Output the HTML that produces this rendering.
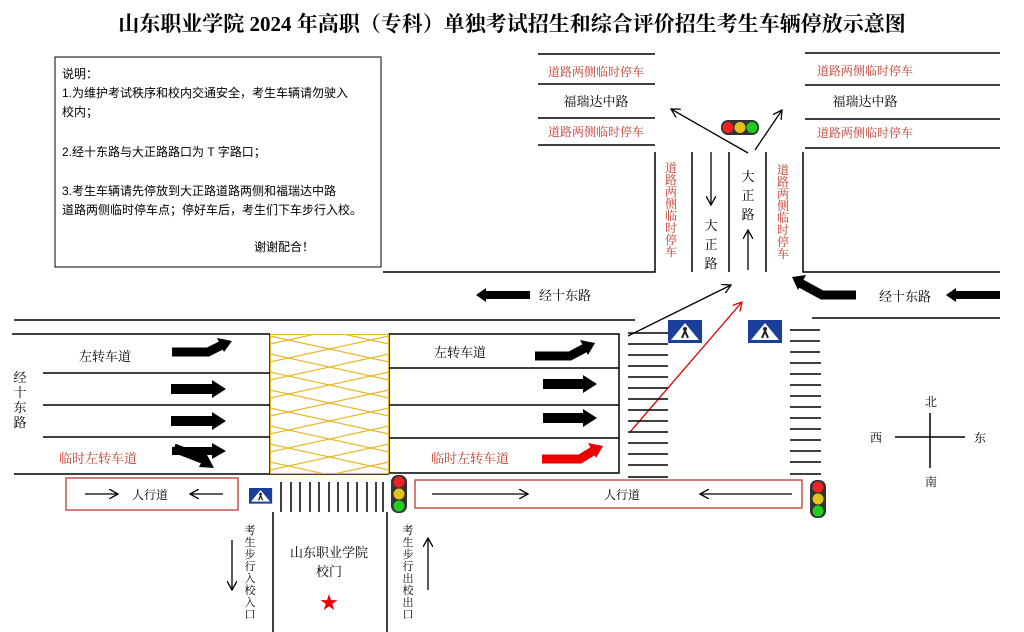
<!DOCTYPE html>
<html><head><meta charset="utf-8"><style>
html,body{margin:0;padding:0;background:#fff;width:1024px;height:632px;overflow:hidden}
svg{display:block}
text{font-family:"Liberation Serif","Noto Serif CJK SC","Noto Sans CJK SC",serif}
.s{font-family:"Liberation Sans","Noto Sans CJK SC",sans-serif}
</style></head><body>
<svg width="1024" height="632" viewBox="0 0 1024 632" xmlns="http://www.w3.org/2000/svg">
<defs>
<marker id="ah" markerWidth="10" markerHeight="10" refX="9" refY="5" orient="auto" markerUnits="userSpaceOnUse"><path d="M0,0 L9,5 L0,10" fill="none" stroke="#000" stroke-width="1.3"/></marker>
<marker id="ahr" markerWidth="10" markerHeight="10" refX="9" refY="5" orient="auto" markerUnits="userSpaceOnUse"><path d="M0,0 L9,5 L0,10" fill="none" stroke="#d00" stroke-width="1.3"/></marker>
<clipPath id="yc"><rect x="270" y="334" width="119" height="140"/></clipPath>
<g id="ped"><rect width="34" height="23" fill="#1a3f9a"/><polygon points="17,3 31,20 3,20" fill="#fff"/><circle cx="17" cy="9" r="2" fill="#222"/><path d="M17,11 L14,18 M17,11 L20,18" stroke="#222" stroke-width="2"/></g>
</defs>
<text x="512" y="31" text-anchor="middle" font-size="21" font-weight="bold">山东职业学院 2024 年高职（专科）单独考试招生和综合评价招生考生车辆停放示意图</text>

<rect x="55" y="57" width="326" height="210" fill="none" stroke="#000" stroke-width="1"/>
<g font-size="12" class="s">
<text x="62" y="78" class="s">说明：</text>
<text x="62" y="97" class="s">1.为维护考试秩序和校内交通安全，考生车辆请勿驶入</text>
<text x="62" y="116" class="s">校内；</text>
<text x="62" y="156" class="s">2.经十东路与大正路路口为 T 字路口；</text>
<text x="62" y="195" class="s">3.考生车辆请先停放到大正路道路两侧和福瑞达中路</text>
<text x="62" y="214" class="s">道路两侧临时停车点；停好车后，考生们下车步行入校。</text>
<text x="254" y="251" class="s">谢谢配合！</text>
</g>

<g stroke="#000" stroke-width="1.5" fill="none">
<path d="M538,54H655M538,84H655M538,118H655M538,145H655"/>
<path d="M805,53H1000M805,85H1000M805,119H1000M805,148H1000"/>
<path d="M383,272H655V152"/>
<path d="M803,152V272H1000"/>
<path d="M692,152V272M729,152V272M766,152V272"/>
<path d="M14,320H635M812,318H1000"/>
</g>
<g font-size="12" fill="#c0392b" text-anchor="middle">
<text x="596" y="76">道路两侧临时停车</text><text x="596" y="136">道路两侧临时停车</text>
<text x="865" y="75">道路两侧临时停车</text><text x="865" y="137">道路两侧临时停车</text>
</g>
<g font-size="13" text-anchor="middle">
<text x="596" y="106">福瑞达中路</text><text x="865" y="106">福瑞达中路</text>
</g>
<g font-size="12" fill="#c0392b" text-anchor="middle">
<text x="671" y="172">道</text><text x="671" y="184">路</text><text x="671" y="196">两</text><text x="671" y="208">侧</text><text x="671" y="220">临</text><text x="671" y="232">时</text><text x="671" y="244">停</text><text x="671" y="256">车</text>
<text x="783" y="174">道</text><text x="783" y="186">路</text><text x="783" y="198">两</text><text x="783" y="210">侧</text><text x="783" y="222">临</text><text x="783" y="234">时</text><text x="783" y="246">停</text><text x="783" y="258">车</text>
</g>
<g font-size="13" text-anchor="middle">
<text x="711" y="230">大</text><text x="711" y="249">正</text><text x="711" y="268">路</text>
<text x="748" y="181">大</text><text x="748" y="200">正</text><text x="748" y="219">路</text>
</g>
<g stroke="#000" stroke-width="1.3" fill="none">
<line x1="711" y1="152" x2="711" y2="205" marker-end="url(#ah)"/>
<line x1="748" y1="270" x2="748" y2="230" marker-end="url(#ah)"/>
<line x1="748" y1="153" x2="671" y2="109" marker-end="url(#ah)"/>
<line x1="755" y1="150" x2="782" y2="110" marker-end="url(#ah)"/>
<line x1="628" y1="336" x2="731" y2="285" marker-end="url(#ah)"/>
<line x1="232" y1="540" x2="232" y2="590" marker-end="url(#ah)"/>
<line x1="428" y1="590" x2="428" y2="538" marker-end="url(#ah)"/>
<line x1="85" y1="494" x2="118" y2="494" marker-end="url(#ah)"/>
<line x1="223" y1="494" x2="190" y2="494" marker-end="url(#ah)"/>
<line x1="432" y1="494" x2="528" y2="494" marker-end="url(#ah)"/>
<line x1="792" y1="494" x2="700" y2="494" marker-end="url(#ah)"/>
</g>
<line x1="630" y1="432" x2="742" y2="302" stroke="#d00" stroke-width="1.3" marker-end="url(#ahr)"/>
<rect x="721" y="120" width="38" height="15" rx="7" fill="#333"/>
<circle cx="728" cy="127.5" r="5.5" fill="#e22"/><circle cx="740" cy="127.5" r="5.5" fill="#e5c21a"/><circle cx="752" cy="127.5" r="5.5" fill="#2c2"/>

<polygon points="476,295 486,288 486,291 530,291 530,299 486,299 486,302" fill="#000"/>
<text x="565" y="300" font-size="13" text-anchor="middle">经十东路</text>
<polygon points="946,295 956,288 956,291 1000,291 1000,299 956,299 956,302" fill="#000"/>
<text x="905" y="301" font-size="13" text-anchor="middle">经十东路</text>
<path d="M856,295 H822 L800,283" stroke="#000" stroke-width="9" fill="none"/>
<polygon points="792,277 806,275 798,290" fill="#000"/>

<g stroke="#000" stroke-width="1.5" fill="none">
<path d="M12,334H270M43,373H270M43,405H270M43,437H270M14,474H389"/>
<rect x="389" y="334" width="230" height="139"/>
<path d="M389,368H619M389,405H619M389,438H619"/>
<path d="M270,334V474"/>
</g>
<g clip-path="url(#yc)" stroke="#e8b72a" stroke-width="1.2">
<path d="M270,300L389,326M270,318L389,344M270,336L389,362M270,354L389,380M270,372L389,398M270,390L389,416M270,408L389,434M270,426L389,452M270,444L389,470M270,462L389,488M270,480L389,506"/>
<path d="M389,300L270,326M389,318L270,344M389,336L270,362M389,354L270,380M389,372L270,398M389,390L270,416M389,408L270,434M389,426L270,452M389,444L270,470M389,462L270,488M389,480L270,506"/>
<rect x="270" y="334" width="119" height="140" fill="none" stroke-width="2"/>
</g>
<g font-size="13" text-anchor="middle">
<text x="105" y="361">左转车道</text><text x="460" y="357">左转车道</text>
<text x="20" y="382">经</text><text x="20" y="397">十</text><text x="20" y="412">东</text><text x="20" y="427">路</text>
</g>
<g font-size="13" fill="#c0392b" text-anchor="middle"><text x="98" y="463">临时左转车道</text><text x="470" y="463">临时左转车道</text></g>
<g fill="#000">
<path d="M172,352H208L222,345" stroke="#000" stroke-width="9" fill="none"/><polygon points="232,341 217,338 224,352"/>
<polygon points="171,384 212,384 212,380 226,389 212,398 212,394 171,394"/>
<polygon points="171,416 212,416 212,412 226,421 212,430 212,426 171,426"/>
<polygon points="172,447 212,447 212,443 226,451 212,459 212,455 172,455"/>
<path d="M174,448L205,460" stroke="#000" stroke-width="9" fill="none"/><polygon points="214,468 199,467 206,453"/>
<path d="M535,356H570L585,348" stroke="#000" stroke-width="9" fill="none"/><polygon points="595,343 580,340 588,355"/>
<polygon points="543,379 583,379 583,375 597,384 583,393 583,389 543,389"/>
<polygon points="543,413 583,413 583,409 597,418 583,427 583,423 543,423"/>
</g>
<path d="M542,459H580L593,451" stroke="#e00" stroke-width="9" fill="none"/><polygon points="603,446 588,443 596,458" fill="#e00"/>

<g stroke="#000" stroke-width="1.5">
<path d="M628,333H668M628,344H668M628,355H668M628,366H668M628,377H668M628,388H668M628,399H668M628,410H668M628,421H668M628,432H668M628,443H668M628,454H668M628,465H668M628,477H668"/>
<path d="M790,330H820M790,341H820M790,352H820M790,363H821M790,374H821M790,385H821M790,396H821M790,407H821M790,418H821M790,429H821M790,440H821M790,451H821M790,462H821M790,474H821"/>
<path d="M281,482V512M291,482V512M300,482V512M310,482V512M319,482V512M329,482V512M338,482V512M348,482V512M357,482V512M367,482V512M376,482V512M383,482V512"/>
<path d="M273,512V632M387,512V632"/>
<path d="M895,437H965M930,413V468"/>
</g>
<use href="#ped" x="668" y="320"/><use href="#ped" x="748" y="320"/>
<g transform="translate(249,488) scale(0.68)"><use href="#ped"/></g>

<rect x="66" y="478" width="172" height="32" fill="none" stroke="#c0392b" stroke-width="1.3"/>
<rect x="415" y="480" width="387" height="28" fill="none" stroke="#c0392b" stroke-width="1.3"/>
<text x="150" y="499" font-size="12" text-anchor="middle">人行道</text>
<text x="622" y="499" font-size="12" text-anchor="middle">人行道</text>

<rect x="391" y="475" width="16" height="38" rx="7" fill="#333"/>
<circle cx="399" cy="482" r="5.5" fill="#e22"/><circle cx="399" cy="494" r="5.5" fill="#e5c21a"/><circle cx="399" cy="506" r="5.5" fill="#2c2"/>
<rect x="810" y="480" width="16" height="38" rx="7" fill="#333"/>
<circle cx="818" cy="487" r="5.5" fill="#e22"/><circle cx="818" cy="499" r="5.5" fill="#e5c21a"/><circle cx="818" cy="511" r="5.5" fill="#2c2"/>

<text x="329" y="557" font-size="13" text-anchor="middle">山东职业学院</text>
<text x="329" y="576" font-size="13" text-anchor="middle">校门</text>
<text x="329" y="609" font-size="18" fill="#e00" text-anchor="middle">★</text>
<g font-size="11" text-anchor="middle">
<text x="250" y="534">考</text><text x="250" y="546">生</text><text x="250" y="558">步</text><text x="250" y="570">行</text><text x="250" y="582">入</text><text x="250" y="594">校</text><text x="250" y="606">入</text><text x="250" y="618">口</text>
<text x="408" y="534">考</text><text x="408" y="546">生</text><text x="408" y="558">步</text><text x="408" y="570">行</text><text x="408" y="582">出</text><text x="408" y="594">校</text><text x="408" y="606">出</text><text x="408" y="618">口</text>
</g>
<g font-size="12" text-anchor="middle">
<text x="931" y="406">北</text><text x="876" y="442">西</text><text x="980" y="442">东</text><text x="931" y="486">南</text>
</g>
</svg>
</body></html>
